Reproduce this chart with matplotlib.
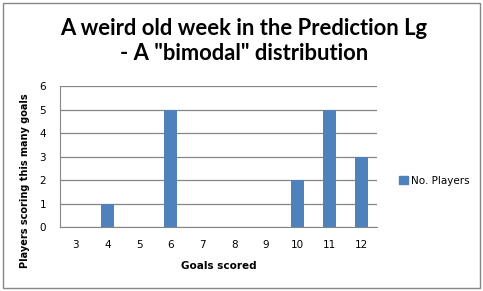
import matplotlib
matplotlib.use("Agg")
import matplotlib.pyplot as plt
from matplotlib.patches import Rectangle, Patch

goals = ["3", "4", "5", "6", "7", "8", "9", "10", "11", "12"]
players = [0, 1, 0, 5, 0, 0, 0, 2, 5, 3]
series_name = "No. Players"

W, H = 483, 291
fig = plt.figure(figsize=(W / 100, H / 100), dpi=100)
ax = fig.add_axes([60 / W, 1 - 227 / H, 317 / W, 141 / H])

x = range(len(goals))
ax.bar(x, players, width=0.41, color="#4F81BD", zorder=3)
ax.set_xlim(-0.5, len(goals) - 0.5)
ax.set_ylim(0, 6)
ax.set_yticks(range(7))
ax.set_xticks(list(x))
ax.set_xticklabels(goals)
ax.grid(axis="y", color="#868686", lw=0.9, zorder=0)
for s in ["top", "right"]:
    ax.spines[s].set_visible(False)
for s in ["left", "bottom"]:
    ax.spines[s].set_color("#868686")
ax.tick_params(axis="both", length=0, labelsize=7.5, colors="black")
ax.tick_params(axis="x", pad=9)
ax.tick_params(axis="y", pad=10)
ax.set_xlabel("Goals scored", fontsize=7.5, fontweight="bold", labelpad=8)
ax.set_ylabel("Players scoring this many goals", fontsize=7, fontweight="bold")
ax.yaxis.set_label_coords(-0.095, 0.326)

fig.text(244 / W, 1 - 41 / H, "A weird old week in the Prediction Lg\n- A \"bimodal\" distribution",
         ha="center", va="center", fontsize=15.8, fontweight="bold", family="Lato", linespacing=1.2)

fig.legend(handles=[Patch(color="#4F81BD", label=series_name)], loc="center left",
           bbox_to_anchor=(390 / W, 1 - 181 / H), frameon=False, fontsize=7.5,
           handlelength=0.8, handleheight=0.8, handletextpad=0.3)

fig.patches.append(Rectangle((3 / W, 3 / H), 477 / W, 285 / H, transform=fig.transFigure,
                             fill=False, edgecolor="#868686", lw=1))

fig.savefig("out.png", dpi=100)
